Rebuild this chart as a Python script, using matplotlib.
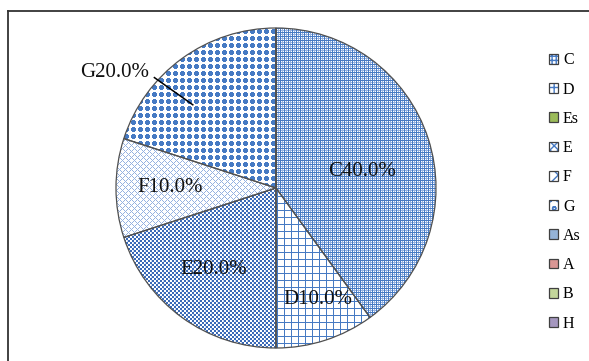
import numpy as np
import matplotlib
matplotlib.use("Agg")
import matplotlib.pyplot as plt
from matplotlib.patches import Rectangle
from matplotlib.lines import Line2D
from matplotlib.legend_handler import HandlerTuple

plt.rcParams['font.family'] = ['Liberation Serif', 'DejaVu Serif']

# Shares per category
categories = ['C', 'D', 'Es', 'E', 'F', 'G', 'As', 'A', 'B', 'H']
values = [4, 1, 0, 2, 1, 2, 0, 0, 0, 0]

# label anchor points (fraction of radius) for the non-empty wedges
label_pos = {
    'C': (0.54, 0.10),
    'D': (0.26, -0.70),
    'E': (-0.39, -0.51),
    'F': (-0.66, 0.00),
    'G': (-1.01, 0.72),
}

BLUE = np.array([70, 122, 195]) / 255.0
DARK = np.array([58, 106, 184]) / 255.0
LIGHT = np.array([150, 178, 224]) / 255.0
PALE = np.array([205, 218, 240]) / 255.0

solid_colors = {'Es': '#9BBB59', 'As': '#95B3D7', 'A': '#D99694',
                'B': '#C3D69B', 'H': '#A597BF'}

N = 320
yy, xx = np.mgrid[0:N, 0:N]


def texture(mask, color, light_mask=None, light=LIGHT):
    img = np.ones((N, N, 3))
    if light_mask is not None:
        img[light_mask] = light
    img[mask] = color
    return img


def dots(period, rad2):
    dx = xx % period - period // 2
    dy = yy % period - period // 2
    return (dx * dx + dy * dy) <= rad2


checker = (xx // 2 + yy // 2) % 2 == 0
textures = {
    'C': texture((xx % 4 == 0) | (yy % 4 == 0), BLUE,
                 (xx % 4 == 2) | (yy % 4 == 2)),
    'D': texture((xx % 7 == 0) | (yy % 7 == 0), BLUE),
    'E': texture(checker, DARK, (xx % 6 == 5) & ~checker, PALE),
    'F': texture(((xx + yy) % 6 == 0) | ((xx - yy) % 6 == 0), LIGHT),
    'G': texture(dots(7, 5), BLUE),
}

fig = plt.figure(figsize=(5.89, 3.61), dpi=100)

cx, cy, r = 276, 188, 160
ax = fig.add_axes([(cx - r) / 589, (361 - cy - r) / 361, 2 * r / 589, 2 * r / 361])
ax.set_aspect('equal')
ax.axis('off')

wedges, _ = ax.pie(values, startangle=90, counterclock=False, radius=1,
                   colors=['none'] * len(values),
                   wedgeprops=dict(edgecolor='#505050', linewidth=0.9, zorder=3))

total = float(sum(values))
for w, cat, v in zip(wedges, categories, values):
    if v == 0:
        continue
    im = ax.imshow(textures[cat], extent=(-1, 1, -1, 1), interpolation='nearest',
                   zorder=2)
    im.set_clip_path(w)
    lx, ly = label_pos[cat]
    ax.text(lx, ly, f"{cat}{100 * v / total:.1f}%", ha='center', va='center',
            fontsize=15, color='#111111', zorder=5)
ax.set_xlim(-1, 1)
ax.set_ylim(-1, 1)

# leader line for the G label
ax.plot([-0.76, -0.52], [0.69, 0.52], color='black', lw=1.1, zorder=5)

# legend
hatches = {'C': '++++', 'D': '++', 'E': 'xxxx', 'F': 'xx', 'G': 'oo'}
handles = []
for cat in categories:
    if cat in hatches:
        face = Rectangle((0, 0), 1, 1, facecolor='white', edgecolor=BLUE,
                         hatch=hatches[cat], linewidth=0)
    else:
        face = Rectangle((0, 0), 1, 1, facecolor=solid_colors[cat], linewidth=0)
    outline = Rectangle((0, 0), 1, 1, facecolor='none', edgecolor='#404040',
                        linewidth=0.9)
    handles.append((face, outline))

fig.legend(handles, categories, loc='upper left',
           bbox_to_anchor=(543 / 589, 1 - 46 / 361), frameon=False,
           handler_map={tuple: HandlerTuple(ndivide=1)},
           fontsize=11.5, handlelength=0.55, handleheight=0.55,
           handletextpad=0.3, labelspacing=0.83, borderaxespad=0)

# chart frame
fig.add_artist(Line2D([7.5 / 589, 7.5 / 589], [0, 1 - 10.5 / 361],
                      transform=fig.transFigure, color='#333333', lw=1.3))
fig.add_artist(Line2D([7.5 / 589, 1], [1 - 10.5 / 361, 1 - 10.5 / 361],
                      transform=fig.transFigure, color='#333333', lw=1.3))

fig.savefig('out.png', dpi=100)
